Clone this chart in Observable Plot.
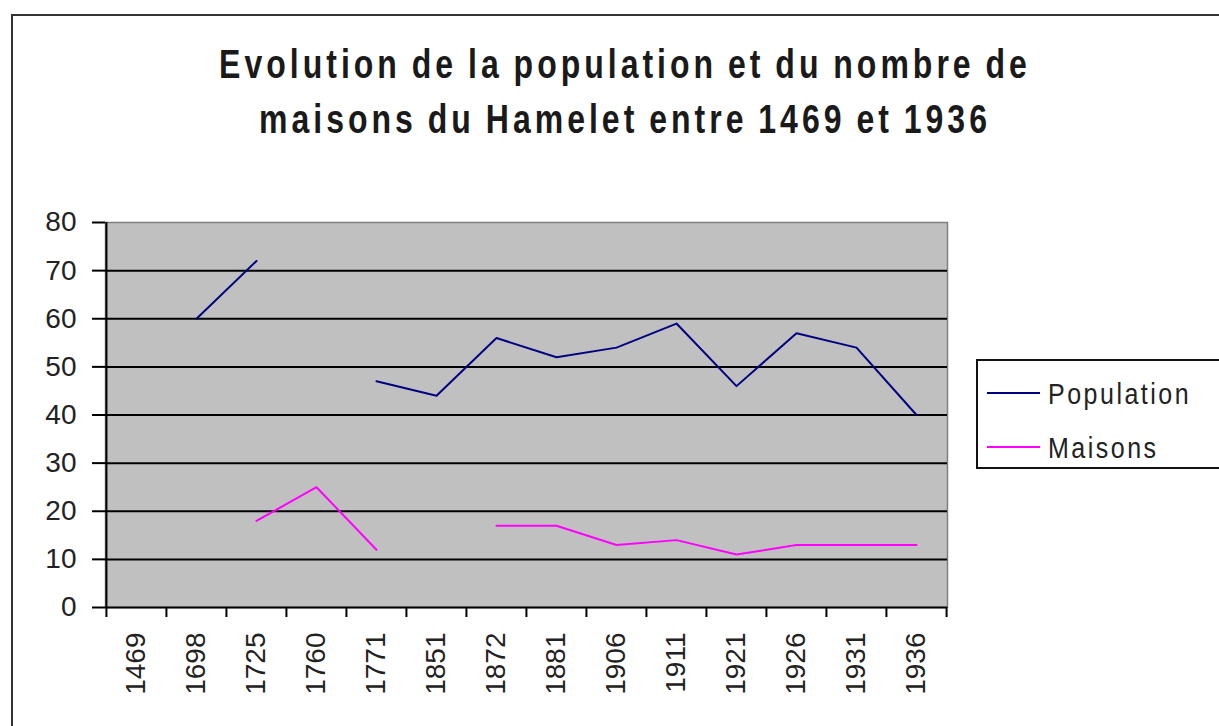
<!DOCTYPE html>
<html>
<head>
<meta charset="utf-8">
<script src="https://cdn.jsdelivr.net/npm/d3@7"></script>
<script src="https://cdn.jsdelivr.net/npm/@observablehq/plot@0.6"></script>
<style>
  html, body { margin: 0; padding: 0; background: #fff; }
  #wrap { position: relative; width: 1219px; height: 726px; overflow: hidden; background: #fff; font-family: "Liberation Sans", Arial, sans-serif; }
  #border { position: absolute; left: 11px; top: 14px; width: 1300px; height: 800px; border: 2px solid #333; box-sizing: border-box; }
  #title { position: absolute; left: 0; top: 37px; width: 1250px; text-align: center; font-size: 32px; line-height: 44px; font-weight: bold; letter-spacing: 4px; word-spacing: -2px; color: #1a1a1a; transform: scaleY(1.25); transform-origin: top; }
  #chart { position: absolute; left: 0; top: 0; }
  #legend { position: absolute; left: 976px; top: 359px; width: 270px; height: 110px; border: 2px solid #111; box-sizing: border-box; background: #fff; }
  .item { position: absolute; left: 9px; height: 30px; display: flex; align-items: center; }
  .sw { width: 53px; height: 2px; margin-right: 8px; }
  .lab { font-size: 25px; letter-spacing: 2.5px; color: #222; transform: scaleY(1.2); }
</style>
</head>
<body>
<div id="wrap">
  <div id="border"></div>
  <div id="title">Evolution de la population et du nombre de<br>maisons du Hamelet entre 1469 et 1936</div>
  <div id="chart"></div>
  <div id="legend"></div>
</div>
<script>
const years = ["1469","1698","1725","1760","1771","1851","1872","1881","1906","1911","1921","1926","1931","1936"];
const population = [null, 60, 72, null, 47, 44, 56, 52, 54, 59, 46, 57, 54, 40];
const maisons = [null, null, 18, 25, 12, null, 17, 17, 13, 14, 11, 13, 13, 13];
const yTicks = [0, 10, 20, 30, 40, 50, 60, 70, 80];
const seriesNames = ["Population", "Maisons"];
const seriesColors = ["#000080", "#ff00ff"];

const popRows = years.map((yr, i) => ({year: yr, value: population[i]}));
const maiRows = years.map((yr, i) => ({year: yr, value: maisons[i]}));

const W = 1219, H = 726, mL = 105, mR = 272, mT = 222, mB = 119;
const step = (W - mL - mR) / years.length;
const tickLen = 10 / ((H - mT - mB) / 80);

const chart = Plot.plot({
  width: W,
  height: H,
  marginLeft: mL,
  marginRight: mR,
  marginTop: mT,
  marginBottom: mB,
  style: {background: "transparent", overflow: "visible", fontFamily: "Liberation Sans, Arial, sans-serif", color: "#222"},
  x: {type: "band", domain: years, padding: 0, label: null},
  y: {domain: [0, 80], label: null},
  marks: [
    Plot.frame({fill: "#c0c0c0", stroke: "#808080", strokeWidth: 1.5}),
    Plot.ruleY(yTicks.filter(d => d > 0 && d < 80), {stroke: "#000", strokeWidth: 2}),
    Plot.ruleY([0], {stroke: "#000", strokeWidth: 2}),
    Plot.ruleX([years[0]], {dx: -step / 2, y1: 0, y2: 80, stroke: "#000", strokeWidth: 2}),
    Plot.ruleX(years, {dx: -step / 2, y1: 0, y2: -tickLen, stroke: "#000", strokeWidth: 2}),
    Plot.ruleX([years[years.length - 1]], {dx: step / 2, y1: 0, y2: -tickLen, stroke: "#000", strokeWidth: 2}),
    Plot.axisY({ticks: yTicks, tickSize: 13, tickPadding: 16, fontSize: 28, tickFormat: d => String(d), stroke: "#000", strokeWidth: 2}),
    Plot.axisX({tickSize: 0, tickPadding: 25, tickRotate: -90, fontSize: 28, label: null}),
    Plot.line(popRows, {x: "year", y: "value", stroke: seriesColors[0], strokeWidth: 2}),
    Plot.line(maiRows, {x: "year", y: "value", stroke: seriesColors[1], strokeWidth: 2})
  ]
});
document.getElementById("chart").appendChild(chart);

const legend = document.getElementById("legend");
seriesNames.forEach((name, i) => {
  const item = document.createElement("div");
  item.className = "item";
  item.style.top = (17 + i * 54) + "px";
  const sw = document.createElement("div");
  sw.className = "sw";
  sw.style.background = seriesColors[i];
  const lab = document.createElement("span");
  lab.className = "lab";
  lab.textContent = name;
  item.appendChild(sw);
  item.appendChild(lab);
  legend.appendChild(item);
});
</script>
</body>
</html>
